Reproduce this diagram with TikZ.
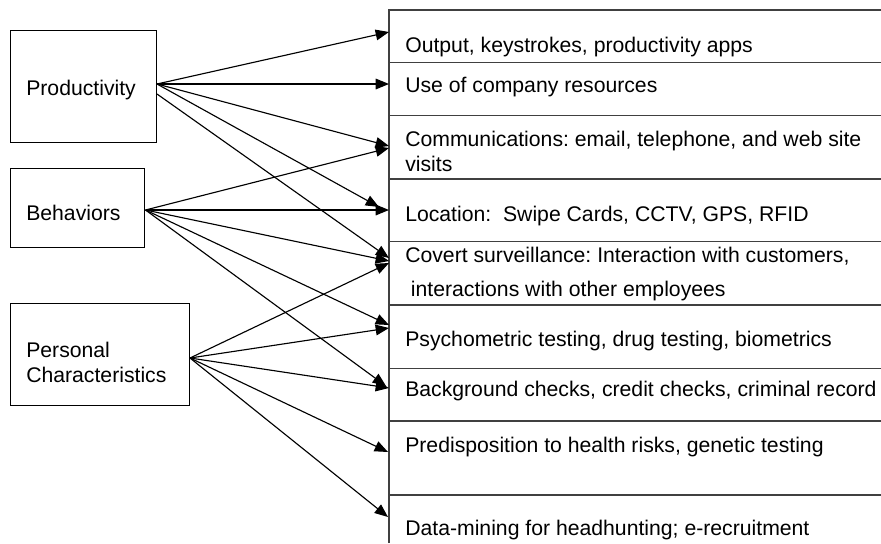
\documentclass[tikz,border=0pt]{standalone}
\usepackage{fontspec}
\setmainfont{Liberation Sans}
\usetikzlibrary{arrows.meta}
\frenchspacing
\begin{document}
\begin{tikzpicture}[x=0.75pt,y=-0.75pt,
  box/.style={draw=black, line width=0.8pt, inner sep=0pt, anchor=north west},
  lbl/.style={anchor=base west, inner sep=0pt, font=\fontsize{15.9}{19}\selectfont},
  conn/.style={draw=black, line width=0.85pt, -{Triangle[length=10pt,width=8pt]}},
  rowline/.style={draw=black!75, line width=1pt}]
\useasboundingbox (0,0) rectangle (881,543);
% left boxes
\node[box, minimum width=109.5pt, minimum height=84pt] (prod) at (10,30) {};
\node[box, minimum width=100.5pt, minimum height=59.25pt] (beh) at (10,168) {};
\node[box, minimum width=134.25pt, minimum height=76.5pt] (pers) at (10,303) {};
\node[lbl] (prodt) at (26,95) {Productivity};
\node[lbl] (beht) at (26,220) {Behaviors};
\node[lbl] (perst1) at (26,357.3) {Personal};
\node[lbl] (perst2) at (26,382.3) {Characteristics};
% right panel
\draw[rowline] (389,543) -- (389,10) -- (881,10);
\foreach \yy in {62.7,115.7,179,241.7,305,368.3,421,495}
  \draw[rowline] (389,\yy) -- (881,\yy);
\node[lbl] (r1) at (405,52.7) {Output, keystrokes, productivity apps};
\node[lbl] (r2) at (405,92.7) {Use of company resources};
\node[lbl] (r3a) at (405,146) {Communications: email, telephone, and web site};
\node[lbl] (r3b) at (405,171.7) {visits};
\node[lbl] (r4) at (405,221.7) {Location:\ \ Swipe Cards, CCTV, GPS, RFID};
\node[lbl] (r5a) at (405,262.7) {Covert surveillance: Interaction with customers,};
\node[lbl] (r5b) at (410.7,296.7) {interactions with other employees};
\node[lbl] (r6) at (405,346.7) {Psychometric testing, drug testing, biometrics};
\node[lbl] (r7) at (405,396) {Background checks, credit checks, criminal record};
\node[lbl] (r8) at (405,452.7) {Predisposition to health risks, genetic testing};
\node[lbl] (r9) at (405,535) {Data-mining for headhunting; e-recruitment};
% start points
\coordinate (ps1) at (157,84);
\coordinate (ps2) at (157,94);
\coordinate (bs) at (145.5,210);
\coordinate (cs) at (190,358);
% end points
\coordinate (tp1) at (389,32);
\coordinate (tp2) at (389,84);
\coordinate (tp3) at (389,146);
\coordinate (tp4) at (379,207);
\coordinate (tp5) at (389,258);
\coordinate (tb1) at (389,148);
\coordinate (tb2) at (389,210);
\coordinate (tb3) at (389,261);
\coordinate (tb4) at (389,325);
\coordinate (tb5) at (386,386);
\coordinate (tc1) at (389,263);
\coordinate (tc2) at (389,328);
\coordinate (tc3) at (389,388);
\coordinate (tc4) at (388,452);
\coordinate (tc5) at (388,517);
% connectors
\draw[conn] (ps1) -- (tp1);
\draw[conn] (ps1) -- (tp2);
\draw[conn] (ps1) -- (tp3);
\draw[conn] (ps1) -- (tp4);
\draw[conn] (ps2) -- (tp5);
\draw[conn] (bs) -- (tb1);
\draw[conn] (bs) -- (tb2);
\draw[conn] (bs) -- (tb3);
\draw[conn] (bs) -- (tb4);
\draw[conn] (bs) -- (tb5);
\draw[conn] (cs) -- (tc1);
\draw[conn] (cs) -- (tc2);
\draw[conn] (cs) -- (tc3);
\draw[conn] (cs) -- (tc4);
\draw[conn] (cs) -- (tc5);
\end{tikzpicture}
\end{document}
